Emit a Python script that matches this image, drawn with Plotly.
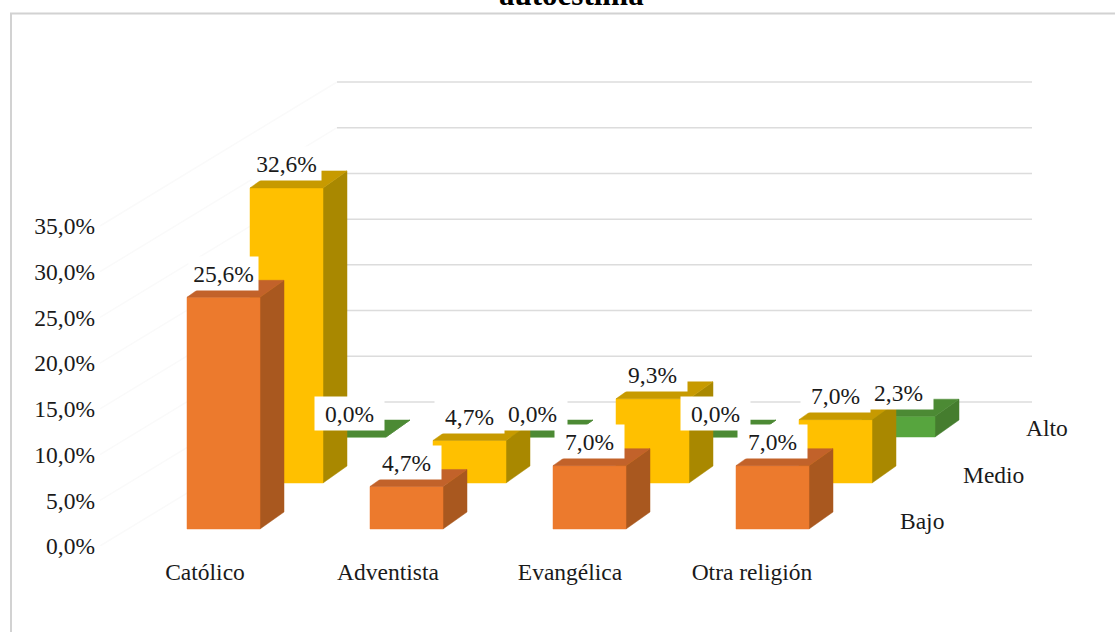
import plotly.graph_objects as go

categories = ["Católico", "Adventista", "Evangélica", "Otra religión"]
series_names = ["Bajo", "Medio", "Alto"]
bajo = [25.6, 4.7, 7.0, 7.0]
medio = [32.6, 4.7, 9.3, 7.0]
alto = [0.0, 0.0, 0.0, 2.3]
y_ticks = [0, 5, 10, 15, 20, 25, 30, 35]
y_ticktext = ["0,0%", "5,0%", "10,0%", "15,0%", "20,0%", "25,0%", "30,0%", "35,0%"]

FRONT = {"Bajo": "#EC7A2D", "Medio": "#FFC000", "Alto": "#57A53E"}
SIDE = {"Bajo": "#A9581F", "Medio": "#A98800", "Alto": "#457D2E"}
TOP = {"Bajo": "#C2622A", "Medio": "#C79A00", "Alto": "#4C8A34"}
FONT = "Liberation Serif"
TXT = "#1a1a1a"

W, H = 1115, 632
ML, MB = 96, 86
PX_X = 183.0        # pixels per category
PX_Y = 320 / 35     # pixels per percentage point
X0 = 205.0          # pixel of first category label
Y0 = 546.0          # pixel of 0 %


def ux(px):
    return (px - X0) / PX_X


def uy(py):
    return (Y0 - py) / PX_Y


bar_left = ux(187) - ux(205) + 0
bar_w = 73 / PX_X
row_dx = 63 / PX_X
row_dy = 46 / PX_Y
depth_dx = 24 / PX_X
depth_dy = 17 / PX_Y
floor = uy(529)
bar_scale = 0.99

fig = go.Figure()


def add_poly(xs, ys, color):
    fig.add_trace(go.Scatter(x=xs, y=ys, mode="lines", fill="toself", fillcolor=color,
                             line=dict(color=color, width=0.5), hoverinfo="skip", showlegend=False))


# back wall and faint side wall
wall_floor = uy(402)
wall_l, wall_r = ux(337), ux(1032)
for t in y_ticks:
    fig.add_trace(go.Scatter(x=[ux(100), wall_l], y=[t, t + wall_floor], mode="lines",
                             line=dict(color="#fafafa", width=1.5), hoverinfo="skip", showlegend=False))
    fig.add_trace(go.Scatter(x=[wall_l, wall_r], y=[t + wall_floor, t + wall_floor], mode="lines",
                             line=dict(color="#dcdcdc", width=1.5), hoverinfo="skip", showlegend=False))

values = {"Bajo": bajo, "Medio": medio, "Alto": alto}
annots = []
for r in [2, 1, 0]:
    name = series_names[r]
    fx, fy, sx, sy, tx, ty = [], [], [], [], [], []
    for c, v in enumerate(values[name]):
        x0 = c + bar_left + r * row_dx
        x1 = x0 + bar_w
        b = floor + r * row_dy
        t = b + v * bar_scale
        fx += [x0, x1, x1, x0, x0, None]
        fy += [b, b, t, t, b, None]
        sx += [x1, x1 + depth_dx, x1 + depth_dx, x1, x1, None]
        sy += [b, b + depth_dy, t + depth_dy, t, b, None]
        tx += [x0, x1, x1 + depth_dx, x0 + depth_dx, x0, None]
        ty += [t, t, t + depth_dy, t + depth_dy, t, None]
        annots.append(dict(x=x0 + bar_w / 2, y=t + 24 / PX_Y, xref="x", yref="y",
                           text=f"{v:.1f}%".replace(".", ","), showarrow=False,
                           bgcolor="white", width=67, height=31,
                           font=dict(family=FONT, size=23.5, color=TXT)))
    add_poly(sx, sy, SIDE[name])
    add_poly(fx, fy, FRONT[name])
    add_poly(tx, ty, TOP[name])

# depth-axis series labels
for r, name in enumerate(series_names):
    annots.append(dict(x=ux(898 + r * 63), y=uy(521 - r * 46.5), xref="x", yref="y",
                       xanchor="left", text=name, showarrow=False,
                       font=dict(family=FONT, size=23.5, color=TXT)))

# title fragment, cut by the top of the image
annots.append(dict(x=ux(571), y=uy(14), xref="x", yref="y", yanchor="bottom",
                   text="<b>autoestima</b>", showarrow=False,
                   font=dict(family=FONT, size=31, color="#000000")))

fig.update_layout(
    width=W, height=H, autosize=False,
    margin=dict(l=ML, r=0, t=0, b=MB, pad=0),
    paper_bgcolor="white", plot_bgcolor="rgba(0,0,0,0)",
    showlegend=False, annotations=annots,
    xaxis=dict(range=[ux(ML), ux(W)], showgrid=False, zeroline=False, showline=False,
               tickmode="array", tickvals=[0, 183 / PX_X, 365 / PX_X, 547 / PX_X], ticktext=categories,
               ticks="outside", ticklen=5, tickcolor="rgba(0,0,0,0)",
               tickfont=dict(family=FONT, size=23.5, color=TXT), fixedrange=True),
    yaxis=dict(range=[uy(H - MB), uy(0)], showgrid=False, zeroline=False, showline=False,
               tickmode="array", tickvals=y_ticks, ticktext=y_ticktext, ticks="",
               tickfont=dict(family=FONT, size=23.5, color=TXT), fixedrange=True),
    shapes=[dict(type="rect", xref="paper", yref="paper", layer="below",
                 x0=(11 - ML) / (W - ML), x1=(W + 5 - ML) / (W - ML),
                 y0=(H - MB - H - 5) / (H - MB), y1=(H - MB - 13.5) / (H - MB),
                 line=dict(color="#d2d2d2", width=2), fillcolor="white")],
)

fig.write_html("out.html", config={"displayModeBar": False},
               post_script="document.body.style.margin='0';document.body.style.overflow='hidden';")
